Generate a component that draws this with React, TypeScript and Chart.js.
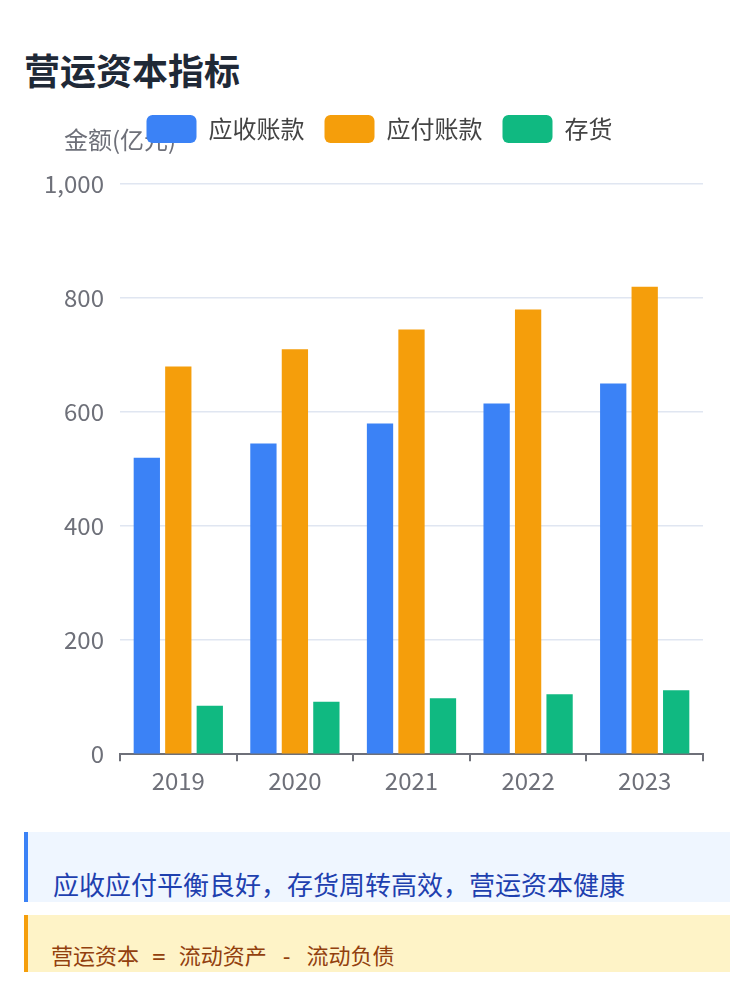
import React, { useEffect, useRef } from "react";
import { Chart, registerables } from "chart.js";

Chart.register(...registerables);

const categories = ["2019", "2020", "2021", "2022", "2023"];
const receivables = [520, 545, 580, 615, 650];
const payables = [680, 710, 745, 780, 820];
const inventory = [85, 92, 98, 105, 112];
const yTicks = [0, 200, 400, 600, 800, 1000];
const seriesNames = ["应收账款", "应付账款", "存货"];
const seriesColors = ["#3b82f6", "#f59e0b", "#10b981"];
const yAxisName = "金额(亿元)";
const titleText = "营运资本指标";
const noteText = "应收应付平衡良好，存货周转高效，营运资本健康";
const formulaText = "营运资本 = 流动资产 - 流动负债";

const FONT = "'Noto Sans CJK SC', 'Noto Sans', sans-serif";
const AXIS_COLOR = "#6E7079";

export default function App() {
  const ref = useRef<HTMLCanvasElement>(null);

  useEffect(() => {
    if (!ref.current) return;
    const axisNamePlugin = {
      id: "axisNamePlugin",
      beforeLayout(chart: any) {
        const lg = chart.legend;
        if (lg && !lg.__patched) {
          const orig = lg.fit;
          lg.fit = function () {
            orig.call(this);
            this.height += 31;
          };
          lg.__patched = true;
        }
      },
      afterLayout(chart: any) {
        const lg = chart.legend;
        if (lg) {
          lg.left += 16;
          lg.right += 16;
        }
      },
      beforeDraw(chart: any) {
        const { ctx, chartArea } = chart;
        ctx.save();
        ctx.font = `24px ${FONT}`;
        ctx.fillStyle = AXIS_COLOR;
        ctx.textAlign = "center";
        ctx.textBaseline = "middle";
        ctx.fillText(yAxisName, chartArea.left, chartArea.top - 44);
        ctx.restore();
      },
    };

    const seriesData = [receivables, payables, inventory];
    const chart = new Chart(ref.current, {
      type: "bar",
      data: {
        labels: categories,
        datasets: seriesData.map((d, i) => ({
          label: seriesNames[i],
          data: d,
          backgroundColor: seriesColors[i],
          borderColor: seriesColors[i],
          borderWidth: 0,
          categoryPercentage: 0.81,
          barPercentage: 0.835,
        })),
      },
      options: {
        animation: false,
        responsive: true,
        maintainAspectRatio: false,
        layout: { padding: { top: 0, right: 29, bottom: 5, left: 0 } },
        plugins: {
          legend: {
            position: "top",
            align: "center",
            labels: {
              boxWidth: 50,
              boxHeight: 28,
              padding: 20,
              useBorderRadius: true,
              borderRadius: 6,
              color: "#444",
              font: { size: 24, family: FONT },
            },
          },
          tooltip: { enabled: false },
        },
        scales: {
          x: {
            offset: true,
            grid: {
              offset: true,
              drawOnChartArea: false,
              drawTicks: true,
              tickLength: 7,
              color: AXIS_COLOR,
              lineWidth: 2,
            },
            border: { display: true, color: AXIS_COLOR, width: 2 },
            ticks: {
              color: AXIS_COLOR,
              padding: 5,
              font: { size: 24, family: FONT },
            },
          },
          y: {
            min: 0,
            max: 1000,
            afterBuildTicks(scale: any) {
              scale.ticks = yTicks.map((v) => ({ value: v }));
            },
            afterFit(scale: any) {
              scale.width = 96;
            },
            grid: { color: "#E0E6F1", lineWidth: 1.5, drawTicks: false },
            border: { display: false },
            ticks: {
              color: AXIS_COLOR,
              padding: 16,
              font: { size: 24, family: FONT },
            },
          },
        },
      },
      plugins: [axisNamePlugin],
    } as any);
    return () => chart.destroy();
  }, []);

  return (
    <div style={{ padding: "40px 16px 0", fontFamily: FONT }}>
      <h2
        style={{
          margin: 0,
          fontSize: 36,
          lineHeight: 1.2,
          fontWeight: 700,
          color: "#1f2937",
          fontFamily: FONT,
        }}
      >
        {titleText}
      </h2>
      <div style={{ position: "relative", width: 708, height: 710, marginTop: 4 }}>
        <canvas ref={ref} />
      </div>
      <div
        style={{
          marginTop: 27,
          width: 706,
          height: 70,
          boxSizing: "border-box",
          borderLeft: "4px solid #3b82f6",
          background: "#eff6ff",
          padding: "34px 0 0 25px",
          fontSize: 26,
          lineHeight: 1.4,
          color: "#1e40af",
          overflow: "hidden",
          whiteSpace: "nowrap",
        }}
      >
        {noteText}
      </div>
      <div
        style={{
          marginTop: 13,
          width: 706,
          height: 57,
          boxSizing: "border-box",
          borderLeft: "4px solid #f59e0b",
          background: "#fef3c7",
          padding: "27px 0 0 23px",
          fontSize: 22,
          lineHeight: 1.4,
          color: "#92400e",
          fontFamily: "'DejaVu Sans Mono', 'Noto Sans CJK SC', monospace",
          overflow: "hidden",
          whiteSpace: "pre",
        }}
      >
        {formulaText}
      </div>
    </div>
  );
}
